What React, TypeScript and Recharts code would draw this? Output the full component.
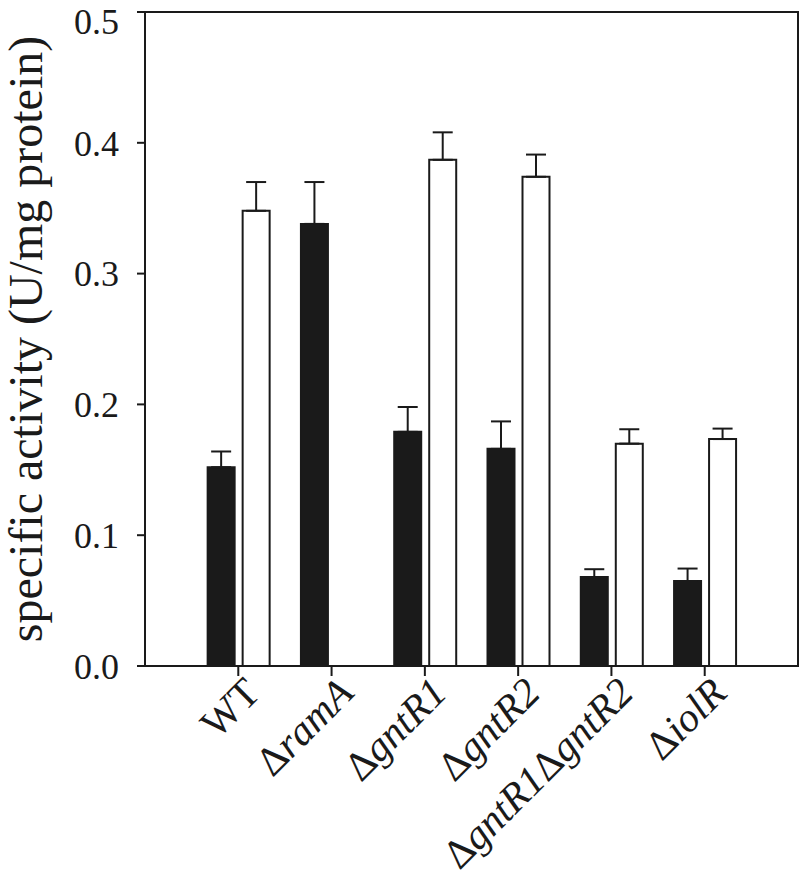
import React from "react";
import {
  ComposedChart,
  Bar,
  XAxis,
  YAxis,
  ErrorBar,
  ReferenceArea,
} from "recharts";

// strains on the x axis
const categories = ["WT", "ΔramA", "ΔgntR1", "ΔgntR2", "ΔgntR1ΔgntR2", "ΔiolR"];

// black bars
const darkValues = [0.152, 0.338, 0.179, 0.166, 0.068, 0.065];
const darkErrors = [0.012, 0.032, 0.019, 0.021, 0.006, 0.0095];

// white bars (no value for ΔramA)
const lightValues = [0.348, null, 0.387, 0.374, 0.17, 0.1735];
const lightErrors = [0.022, null, 0.021, 0.017, 0.011, 0.008];

const yTicks = [0, 0.1, 0.2, 0.3, 0.4, 0.5];

const FONT = "'Liberation Serif', 'Times New Roman', serif";
const INK = "#1a1a1a";

// groups sit at 1..n on a numeric axis running 0..n+1
const data = categories.map((name, i) => ({
  pos: i + 1,
  name,
  dark: darkValues[i],
  darkErr: [0, darkErrors[i]],
  light: lightValues[i],
  lightErr: lightErrors[i] == null ? undefined : [0, lightErrors[i]],
}));
const xTicks = data.map((d) => d.pos);
const xMax = categories.length + 1;

// Δ stays upright, gene names in italics, WT upright
function labelParts(name: string) {
  if (name === "WT") return [<tspan key="wt">WT</tspan>];
  const out: React.ReactNode[] = [];
  name.split("Δ").forEach((part, i) => {
    if (i === 0 && part === "") return;
    out.push(<tspan key={"d" + i}>Δ</tspan>);
    out.push(
      <tspan key={"g" + i} fontStyle="italic">
        {part}
      </tspan>
    );
  });
  return out;
}

const CategoryTick = ({ x, y, payload }: any) => {
  const tx = x + 24;
  const ty = y + 19;
  const name = categories[payload.value - 1] ?? "";
  return (
    <text
      x={tx}
      y={ty}
      transform={`rotate(-45, ${tx}, ${ty})`}
      textAnchor="end"
      fontFamily={FONT}
      fontSize={41}
      fill={INK}
    >
      {labelParts(name)}
    </text>
  );
};

const YLabel = ({ viewBox }: any) => {
  const x = viewBox.x + 42;
  const y = viewBox.y + viewBox.height / 2;
  return (
    <text
      x={x}
      y={y}
      transform={`rotate(-90, ${x}, ${y})`}
      textAnchor="middle"
      fontFamily={FONT}
      fontSize={48}
      fill={INK}
    >
      specific activity (U/mg protein)
    </text>
  );
};

export default function App() {
  return (
    <div style={{ position: "absolute", left: 0, top: 0, background: "#fff" }}>
      <ComposedChart
        width={800}
        height={883}
        data={data}
        margin={{ top: 12, right: 2, left: 0, bottom: 0 }}
        barSize={27}
        barGap={8}
      >
        <XAxis
          dataKey="pos"
          type="number"
          domain={[0, xMax]}
          ticks={xTicks}
          height={217}
          tickSize={10}
          tickMargin={0}
          tickLine={{ stroke: INK, strokeWidth: 2 }}
          axisLine={{ stroke: INK, strokeWidth: 2 }}
          tick={<CategoryTick />}
          interval={0}
        />
        <YAxis
          domain={[0, 0.5]}
          ticks={yTicks}
          width={145}
          tickSize={8}
          tickMargin={18}
          tickFormatter={(v: number) => v.toFixed(1)}
          tick={{ fontFamily: FONT, fontSize: 36, fill: INK }}
          tickLine={{ stroke: INK, strokeWidth: 2 }}
          axisLine={{ stroke: INK, strokeWidth: 2 }}
          label={<YLabel />}
        />
        {/* frame around the plot area */}
        <ReferenceArea
          x1={0}
          x2={xMax}
          y1={0}
          y2={0.5}
          fill="none"
          fillOpacity={0}
          stroke={INK}
          strokeWidth={2}
          ifOverflow="visible"
        />
        <Bar
          dataKey="dark"
          fill={INK}
          stroke={INK}
          strokeWidth={2}
          isAnimationActive={false}
        >
          <ErrorBar
            dataKey="darkErr"
            width={10}
            stroke={INK}
            strokeWidth={2}
            direction="y"
            isAnimationActive={false}
          />
        </Bar>
        <Bar
          dataKey="light"
          fill="#ffffff"
          stroke={INK}
          strokeWidth={2}
          isAnimationActive={false}
        >
          <ErrorBar
            dataKey="lightErr"
            width={10}
            stroke={INK}
            strokeWidth={2}
            direction="y"
            isAnimationActive={false}
          />
        </Bar>
      </ComposedChart>
    </div>
  );
}
